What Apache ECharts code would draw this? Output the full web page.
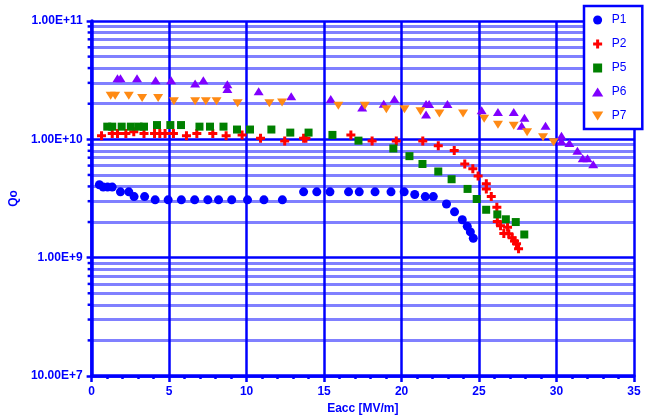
<!DOCTYPE html>
<html>
<head>
<meta charset="utf-8">
<script src="https://cdn.jsdelivr.net/npm/echarts@6/dist/echarts.min.js"></script>
<style>
  html, body { margin: 0; padding: 0; background: #fff; }
  #chart { width: 645px; height: 420px; }
</style>
</head>
<body>
<div id="chart"></div>
<script>
// Eacc [MV/m], Qo pairs
var p1 = [
  [0.5, 4.13e9], [0.75, 3.95e9], [1.03, 3.95e9], [1.33, 3.95e9], [1.86, 3.6e9],
  [2.4, 3.6e9], [2.74, 3.28e9], [3.42, 3.28e9], [4.1, 3.08e9], [4.94, 3.08e9],
  [5.79, 3.08e9], [6.65, 3.08e9], [7.5, 3.08e9], [8.19, 3.08e9], [9.04, 3.08e9],
  [10.06, 3.08e9], [11.12, 3.08e9], [12.31, 3.08e9], [13.68, 3.6e9], [14.53, 3.6e9],
  [15.38, 3.6e9], [16.58, 3.6e9], [17.27, 3.6e9], [18.29, 3.6e9], [19.32, 3.6e9],
  [20.17, 3.6e9], [20.85, 3.42e9], [21.53, 3.28e9], [22.05, 3.28e9], [22.9, 2.84e9],
  [23.42, 2.44e9], [23.92, 2.09e9], [24.24, 1.84e9], [24.44, 1.65e9], [24.63, 1.46e9]
];
var p2 = [
  [0.64, 1.07e10], [1.33, 1.12e10], [1.67, 1.12e10], [2.21, 1.12e10], [2.72, 1.16e10],
  [3.38, 1.12e10], [4.06, 1.12e10], [4.4, 1.12e10], [4.74, 1.12e10], [5.28, 1.12e10],
  [6.12, 1.07e10], [6.79, 1.12e10], [7.82, 1.12e10], [8.68, 1.07e10], [9.71, 1.09e10],
  [10.9, 1.02e10], [12.46, 9.7e9], [13.68, 1.02e10], [13.83, 1.02e10], [16.73, 1.09e10],
  [18.1, 9.7e9], [19.66, 9.7e9], [21.37, 9.7e9], [22.37, 8.83e9], [23.4, 8.04e9],
  [24.08, 6.19e9], [24.6, 5.64e9], [24.94, 4.89e9], [25.47, 4.21e9], [25.47, 3.81e9],
  [25.79, 3.28e9], [26.15, 2.67e9], [26.18, 2.02e9], [26.39, 1.86e9], [26.84, 1.81e9],
  [26.6, 1.6e9], [26.92, 1.59e9], [27.14, 1.47e9], [27.29, 1.38e9], [27.42, 1.31e9],
  [27.55, 1.19e9]
];
var p5 = [
  [1.01, 1.28e10], [1.33, 1.28e10], [1.94, 1.28e10], [2.53, 1.28e10], [3.03, 1.28e10],
  [3.38, 1.28e10], [4.22, 1.32e10], [5.08, 1.32e10], [5.77, 1.32e10], [6.96, 1.28e10],
  [7.64, 1.28e10], [8.51, 1.28e10], [9.38, 1.21e10], [10.22, 1.21e10], [11.6, 1.21e10],
  [12.82, 1.14e10], [14.0, 1.14e10], [15.54, 1.09e10], [17.22, 9.75e9], [19.47, 8.37e9],
  [20.51, 7.21e9], [21.35, 6.19e9], [22.37, 5.35e9], [23.23, 4.6e9], [24.26, 3.81e9],
  [24.85, 3.13e9], [25.46, 2.54e9], [26.18, 2.32e9], [26.73, 2.11e9], [27.37, 2.0e9],
  [27.92, 1.57e9]
];
var p6 = [
  [1.67, 3.28e10], [1.86, 3.28e10], [2.93, 3.28e10], [4.13, 3.15e10], [5.13, 3.15e10],
  [6.68, 2.96e10], [7.21, 3.15e10], [8.76, 2.92e10], [8.76, 2.66e10], [10.78, 2.55e10],
  [12.88, 2.31e10], [15.43, 2.19e10], [17.46, 1.86e10], [18.85, 2.0e10], [19.54, 2.19e10],
  [21.58, 1.99e10], [21.78, 1.99e10], [21.58, 1.62e10], [22.96, 1.99e10], [25.17, 1.76e10],
  [26.22, 1.7e10], [27.24, 1.7e10], [27.93, 1.52e10], [27.75, 1.3e10], [29.29, 1.3e10],
  [30.32, 1.07e10], [30.32, 9.64e9], [30.83, 9.29e9], [31.35, 8.0e9], [31.69, 6.92e9],
  [32.0, 6.92e9], [32.37, 6.15e9]
];
var p7 = [
  [1.23, 2.34e10], [1.52, 2.34e10], [2.4, 2.34e10], [3.26, 2.23e10], [4.29, 2.23e10],
  [5.31, 2.1e10], [6.68, 2.1e10], [7.37, 2.1e10], [8.06, 2.1e10], [9.42, 2.02e10],
  [11.47, 2.02e10], [12.29, 2.05e10], [15.92, 1.92e10], [17.63, 1.92e10], [19.02, 1.8e10],
  [20.19, 1.8e10], [21.22, 1.73e10], [22.44, 1.65e10], [23.97, 1.65e10], [25.33, 1.49e10],
  [26.22, 1.33e10], [27.24, 1.3e10], [28.1, 1.15e10], [29.13, 1.04e10], [29.81, 9.46e9]
];

var seriesNames = ['P1', 'P2', 'P5', 'P6', 'P7'];
var yTickValues = [1e8, 1e9, 1e10, 1e11];
var yTickLabels = ['10.00E+7', '1.00E+9', '1.00E+10', '1.00E+11'];
// 2..9 inside each decade
var yMinorValues = [];
[1e8, 1e9, 1e10].forEach(function (d) {
  for (var k = 2; k <= 9; k++) yMinorValues.push(k * d);
});

var BLUE = '#0000ff';
var LIGHT = '#8080ff';
var plusIcon = 'path://M3,0L6,0L6,3L9,3L9,6L6,6L6,9L3,9L3,6L0,6L0,3L3,3Z';
var downIcon = 'path://M0,0L10,0L5,8Z';
var upIcon = 'path://M5,0L10,8L0,8Z';
var boxIcon = 'path://M0,0L8,0L8,8L0,8Z';

var labelFont = { color: BLUE, fontWeight: 'bold', fontSize: 12, fontFamily: 'Liberation Sans, Arial, sans-serif' };

// short dark ticks left of the y axis, at the minor levels
function minorTicks(params, api) {
  var a = api.coord([0, api.value(1)]);
  return { type: 'line', shape: { x1: a[0] - 4, y1: a[1], x2: a[0], y2: a[1] }, style: { stroke: BLUE, lineWidth: 2.5 } };
}
var minorData = yMinorValues.map(function (v) { return [0, v]; });

var chart = echarts.init(document.getElementById('chart'));
chart.setOption({
  animation: false,
  backgroundColor: '#fff',
  grid: { left: 88, right: 11, top: 21, bottom: 36 },
  legend: {
    orient: 'vertical',
    left: 584,
    top: 6,
    padding: [7, 16, 6, 8],
    itemWidth: 18,
    itemHeight: 9,
    itemGap: 10,
    backgroundColor: '#fff',
    borderColor: BLUE,
    borderWidth: 2.5,
    borderRadius: 0,
    textStyle: { color: BLUE, fontSize: 12, lineHeight: 14, fontFamily: 'Liberation Sans, Arial, sans-serif' },
    data: [
      { name: 'P1', icon: 'circle' },
      { name: 'P2', icon: plusIcon },
      { name: 'P5', icon: boxIcon },
      { name: 'P6', icon: upIcon },
      { name: 'P7', icon: downIcon }
    ]
  },
  xAxis: {
    type: 'value',
    min: 0,
    max: 35,
    interval: 5,
    name: 'Eacc [MV/m]',
    nameLocation: 'middle',
    nameGap: 27,
    nameTextStyle: labelFont,
    axisLine: { show: true, onZero: false, lineStyle: { color: BLUE, width: 3.5 } },
    axisTick: { show: true, length: 6, lineStyle: { color: BLUE, width: 2.5 } },
    minorTick: { show: true, splitNumber: 5, length: 3, lineStyle: { color: BLUE, width: 2.5 } },
    splitLine: { show: true, lineStyle: { color: BLUE, width: 2.5 } },
    axisLabel: Object.assign({ margin: 10 }, labelFont)
  },
  yAxis: {
    type: 'log',
    logBase: 10,
    min: 1e8,
    max: 1e11,
    splitNumber: 3,
    name: 'Qo',
    nameLocation: 'middle',
    nameGap: 56,
    nameRotate: 90,
    nameTextStyle: labelFont,
    axisLine: { show: true, onZero: false, lineStyle: { color: BLUE, width: 3.5 } },
    axisTick: { show: true, length: 5, lineStyle: { color: BLUE, width: 2.5 } },
    minorTick: { show: false },
    minorSplitLine: { show: false },
    splitLine: { show: true, lineStyle: { color: BLUE, width: 2.5 } },
    axisLabel: Object.assign({
      margin: 9,
      formatter: function (v) {
        var e = Math.log(v) / Math.LN10;
        if (Math.abs(e - Math.round(e)) > 1e-6) return '';
        return yTickLabels[Math.round(e) - 8] || '';
      }
    }, labelFont)
  },
  series: [
    { type: 'custom', silent: true, clip: false, z: 1, data: minorData, renderItem: minorTicks },
    {
      name: seriesNames[0], type: 'scatter', data: p1, symbol: 'circle', symbolSize: 9,
      itemStyle: { color: '#0000ff', opacity: 1 },
      markLine: {
        silent: true,
        symbol: ['none', 'none'],
        label: { show: false },
        z: -1,
        lineStyle: { color: LIGHT, width: 3, type: 'solid', opacity: 1 },
        emphasis: { disabled: true },
        data: yMinorValues.map(function (v) { return { yAxis: v }; })
      }
    },
    { name: seriesNames[1], type: 'scatter', data: p2, symbol: plusIcon, symbolSize: 9, itemStyle: { color: '#ff0000', opacity: 1 } },
    { name: seriesNames[2], type: 'scatter', data: p5, symbol: 'rect', symbolSize: 8, itemStyle: { color: '#008000', opacity: 1 } },
    { name: seriesNames[3], type: 'scatter', data: p6, symbol: 'triangle', symbolSize: [10, 8], itemStyle: { color: '#8000ff', opacity: 1 } },
    { name: seriesNames[4], type: 'scatter', data: p7, symbol: downIcon, symbolSize: [10, 8], itemStyle: { color: '#ff8a14', opacity: 1 } }
  ]
});
</script>
</body>
</html>
